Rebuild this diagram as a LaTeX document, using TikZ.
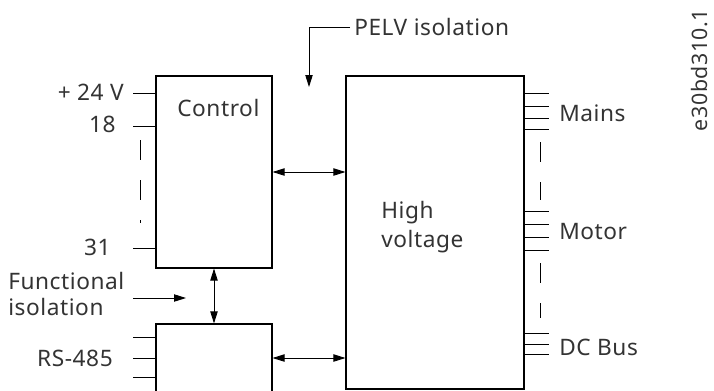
\documentclass[tikz,border=0pt]{standalone}
\usepackage{fontspec}
\setmainfont[LetterSpace=2.5]{Noto Sans}
\usetikzlibrary{arrows.meta, positioning, calc}

\begin{document}
\begin{tikzpicture}[
    x=0.75pt, y=-0.75pt,
    box/.style={draw, line width=0.8pt, minimum width=87pt, inner sep=0pt},
    lbl/.style={font=\fontsize{17}{21}\selectfont, text=black!80, inner sep=0pt},
    arr/.style={-{Triangle[length=9pt, width=5.5pt]}, line width=0.7pt},
    dbl/.style={{Triangle[length=9pt, width=5.5pt]}-{Triangle[length=9pt, width=5.5pt]}, line width=0.7pt},
    pin/.style={line width=0.7pt},
    gap/.style={line width=0.7pt, dash pattern=on 15pt off 15pt}
]
\clip (0,0) rectangle (714,390);

% ---- Blocks ----
\node[box, minimum height=144pt] (ctrl) at (214,172) {};
\node[box, minimum height=51pt] (rs) at (214,358) {};
\node[box, minimum width=133.5pt, minimum height=234.75pt] (hv) at (435,232.5) {};

\node[lbl, anchor=west] (ctrltxt) at (177,108) {Control};
\node[lbl, anchor=north west, align=left, font=\fontsize{17}{21.75}\selectfont] (hvtxt) at (381,201) {High\\voltage};

% ---- Links between blocks ----
\draw[dbl] (ctrl.east) -- (ctrl.east -| hv.west);
\draw[dbl] (ctrl.south) -- (rs.north);
\draw[dbl] (rs.east) -- (rs.east -| hv.west);

% ---- Control terminals ----
\coordinate (t24) at (133,93);
\coordinate (t18) at (133,126);
\coordinate (t31) at (133,248);
\foreach \t in {t24, t18, t31}
    \draw[pin] (\t) -- (\t -| ctrl.west);
\node[lbl, anchor=east] (l24) at (124,92) {+ 24 V};
\node[lbl, anchor=east] (l18) at (116,124) {18};
\node[lbl, anchor=east] (l31) at (111,247) {31};
\coordinate (dtop) at (140,140);
\coordinate (dbot) at (140,223);
\draw[gap] (dtop) -- (dbot);

% ---- RS-485 terminals ----
\foreach \y in {337, 358, 377}
    \draw[pin] (133,\y) -- (rs.west |- 0,\y);
\node[lbl, anchor=east] (lrs) at (113,358) {RS-485};

% ---- Functional isolation ----
\node[lbl, anchor=north west, align=left, font=\fontsize{17}{19.5}\selectfont] (func) at (8,272) {Functional\\isolation};
\coordinate (fstart) at (133,298);
\coordinate (fend) at (186,298);
\draw[arr] (fstart) -- (fend);

% ---- PELV isolation ----
\node[lbl, anchor=west, inner sep=3pt] (pelv) at (350,27) {PELV isolation};
\coordinate (pelvtip) at (309,87);
\draw[arr] (pelv.west) -| (pelvtip);

% ---- High voltage terminals ----
\foreach \y in {93, 106, 118, 129, 211, 224, 237, 250, 333, 344, 354}
    \draw[pin] (hv.east |- 0,\y) -- (549,\y);
\node[lbl, anchor=west] (mains) at (559,113) {Mains};
\node[lbl, anchor=west] (motor) at (559,232) {Motor};
\node[lbl, anchor=west] (dcbus) at (559,347) {DC Bus};
\coordinate (ma) at (540,142);
\coordinate (mb) at (540,200);
\coordinate (mc) at (540,263);
\coordinate (md) at (540,318);
\draw[gap] (ma) -- (mb);
\draw[gap] (mc) -- (md);

% ---- Drawing number ----
\node[lbl, rotate=90, font=\fontsize{16}{20}\selectfont] (docid) at (700,70) {e30bd310.1};

\end{tikzpicture}
\end{document}
